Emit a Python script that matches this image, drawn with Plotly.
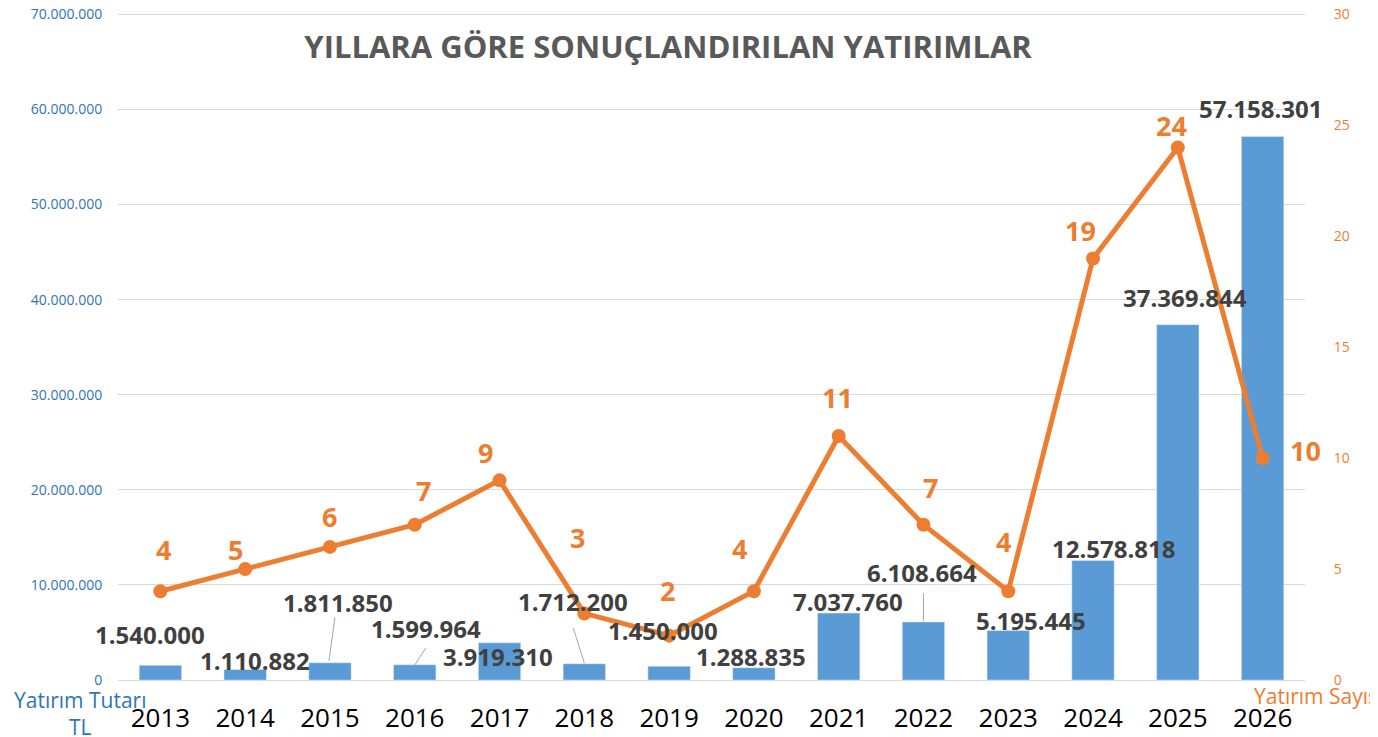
import plotly.graph_objects as go

years = ["2013", "2014", "2015", "2016", "2017", "2018", "2019", "2020", "2021", "2022", "2023", "2024", "2025", "2026"]
amounts = [1540000, 1110882, 1811850, 1599964, 3919310, 1712200, 1450000, 1288835, 7037760, 6108664, 5195445, 12578818, 37369844, 57158301]
counts = [4, 5, 6, 7, 9, 3, 2, 4, 11, 7, 4, 19, 24, 10]

# label offsets (pixels) relative to their marks
bar_lbl_dx = [-10, 10, 8, 11, -2, -11, -6, -3, 9, -1, 23, 20, 7, -2]
bar_lbl_dy = [31, 9, 60, 36, -14, 62, 36, 11, 12, 49, 10, 12, 27, 28]
cnt_lbl_dx = [3, -10, 0, 9, -14, -7, -2, -14, -1, 7, -5, -13, -6, 43]
cnt_lbl_dy = [42, 20, 30, 34, 28, 76, 45, 43, 38, 37, 50, 28, 22, 8]

BLUE = "#5B9BD5"
ORANGE = "#ED7D31"
DARK = "#404040"
FONT = "Open Sans"
TOP = 70150000  # slight headroom so the top gridline is drawn
RATIO = 30 / 70000000

def fmt(v):
    return f"{v:,}".replace(",", ".")

fig = go.Figure()
fig.add_trace(go.Bar(x=years, y=amounts, marker_color=BLUE, width=0.5, name="Yatırım Tutarı", yaxis="y"))
fig.add_trace(go.Scatter(x=years, y=counts, mode="lines+markers", line=dict(color=ORANGE, width=5),
                         marker=dict(color=ORANGE, size=14), name="Yatırım Sayısı", yaxis="y2"))

anns = []
for i, y in enumerate(years):
    anns.append(dict(x=i, y=amounts[i], xref="x", yref="y", text=fmt(amounts[i]), showarrow=False,
                     xshift=bar_lbl_dx[i], yshift=bar_lbl_dy[i],
                     font=dict(family=FONT, size=24, color=DARK, weight="bold")))
    anns.append(dict(x=i, y=counts[i], xref="x", yref="y2", text=str(counts[i]), showarrow=False,
                     xshift=cnt_lbl_dx[i], yshift=cnt_lbl_dy[i],
                     font=dict(family=FONT, size=27, color=ORANGE, weight="bold")))

anns.append(dict(x=0.0, y=0, xref="paper", yref="paper", xanchor="center", yanchor="top",
                 xshift=-38, yshift=-4, text="Yatırım Tutarı<br>TL", showarrow=False,
                 font=dict(family=FONT, size=21, color="#2E75B6")))
anns.append(dict(x=1.0, y=0, xref="paper", yref="paper", xanchor="center", yanchor="top",
                 xshift=13, yshift=0, text="Yatırım Sayısı", showarrow=False,
                 font=dict(family=FONT, size=21, color=ORANGE)))

# leader lines: (category index offset top, value top, index offset bottom, value bottom)
CW = 84.8
leaders = [(2 + 5 / CW, 6.6e6, 2 - 1 / CW, 2.0e6), (3 + 11 / CW, 3.36e6, 3.0, 1.57e6),
           (5 - 11 / CW, 5.46e6, 5.0, 1.78e6), (9.0, 9.13e6, 9.0, 6.19e6)]
shapes = [dict(type="line", xref="x", yref="y", x0=a, x1=b, y0=v0, y1=v1,
               line=dict(color="#A6A6A6", width=1))
          for a, v0, b, v1 in leaders]

fig.update_layout(
    width=1378, height=737,
    margin=dict(l=110, r=81, t=5, b=65, autoexpand=False),
    paper_bgcolor="white", plot_bgcolor="white",
    separators=",.",
    showlegend=False,
    bargap=0.5,
    title=dict(text="YILLARA GÖRE SONUÇLANDIRILAN YATIRIMLAR", x=0.479, xanchor="center", y=1 - 39 / 737,
               yanchor="middle", font=dict(family=FONT, size=31, color="#595959", weight="bold")),
    xaxis=dict(type="category", categoryorder="array", categoryarray=years, range=[-0.5, 13.5],
               tickfont=dict(family=FONT, size=26, color="black"), showgrid=False,
               ticks="", ticklabelstandoff=20, showline=False, automargin=False),
    yaxis=dict(range=[0, TOP], tick0=0, dtick=10000000, tickformat=",d", showgrid=True, gridcolor="#D9D9D9",
               gridwidth=1, zeroline=True, zerolinecolor="#D9D9D9", zerolinewidth=1, automargin=False,
               ticklabeloverflow="allow", ticks="outside", ticklen=12, tickcolor="rgba(0,0,0,0)",
               tickfont=dict(family=FONT, size=14, color="#2E75B6")),
    yaxis2=dict(range=[0, TOP * RATIO], tick0=0, dtick=5, overlaying="y", side="right", showgrid=False,
                zeroline=False, automargin=False, ticklabeloverflow="allow",
                ticks="outside", ticklen=25, tickcolor="rgba(0,0,0,0)",
                tickfont=dict(family=FONT, size=14, color=ORANGE)),
    annotations=anns,
    shapes=shapes,
)

fig.write_html("out.html")
